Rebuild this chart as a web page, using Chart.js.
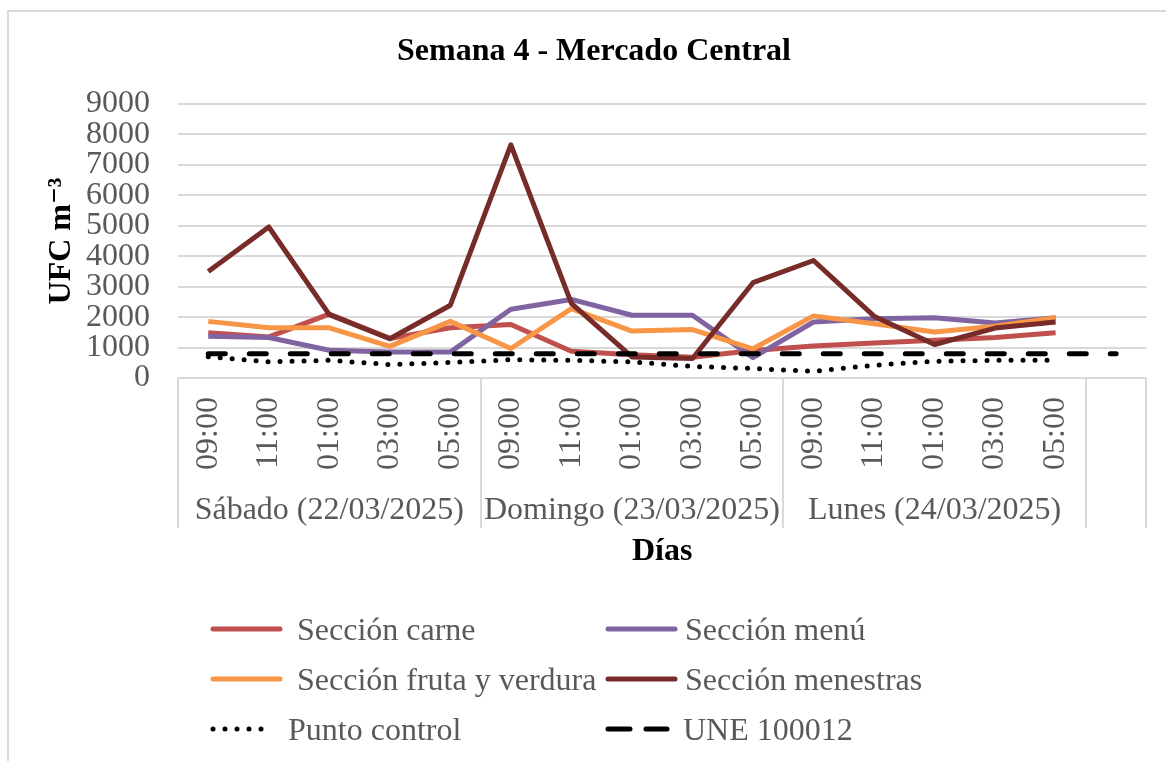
<!DOCTYPE html>
<html lang="es">
<head>
<meta charset="utf-8">
<title>Semana 4 - Mercado Central</title>
<script src="https://cdn.jsdelivr.net/npm/chart.js@4.4.1/dist/chart.umd.min.js"></script>
<style>
  html, body { margin: 0; padding: 0; background: #fff; overflow: hidden; }
  #frame { position: absolute; left: 7px; top: 10px; width: 1220px; height: 820px; border: 2px solid #d9d9d9; box-sizing: border-box; }
  #chart { position: absolute; left: 0; top: 0; }
  #legend { position: absolute; left: 0; top: 0; font: 32px "Liberation Serif", "Times New Roman", serif; color: #595959; }
  .item { position: absolute; display: flex; align-items: center; height: 40px; white-space: pre; }
  .item svg { flex: none; }
</style>
</head>
<body>
<div id="frame"></div>
<canvas id="chart" width="1166" height="761"></canvas>
<div id="legend"></div>
<script>
const hours = ["09:00", "11:00", "01:00", "03:00", "05:00"];
const days = ["Sábado (22/03/2025)", "Domingo (23/03/2025)", "Lunes (24/03/2025)"];
// 15 readings + one empty slot at the end (the UNE line runs into it)
const labels = [...hours, ...hours, ...hours, ""];

const carne = [1490, 1350, 2100, 1300, 1650, 1760, 880, 760, 680, 900, 1050, 1150, 1240, 1330, 1490, null];
const menu = [1370, 1330, 910, 850, 850, 2260, 2580, 2060, 2060, 670, 1840, 1950, 1980, 1810, 1980, null];
const fruta = [1860, 1650, 1650, 1040, 1860, 970, 2280, 1540, 1590, 960, 2040, 1780, 1510, 1700, 1980, null];
const menestras = [3500, 4960, 2080, 1290, 2390, 7660, 2450, 690, 640, 3130, 3860, 2030, 1100, 1640, 1840, null];
const punto = [700, 530, 580, 440, 510, 600, 580, 530, 380, 310, 220, 420, 550, 580, 580, null];
const une = [800, 800, 800, 800, 800, 800, 800, 800, 800, 800, 800, 800, 800, 800, 800, 800];

const serif = "'Liberation Serif', 'Times New Roman', 'DejaVu Serif', serif";
const grey = "#595959";

function line(label, data, color, extra) {
  return Object.assign({
    label, data,
    borderColor: color,
    backgroundColor: color,
    borderWidth: 5,
    pointRadius: 0,
    tension: 0,
    fill: false,
    spanGaps: false,
    borderJoinStyle: "round",
  }, extra || {});
}

// day names under the hour labels, with the grey separators
const dayAxis = {
  id: "dayAxis",
  afterDraw(chart) {
    const x = chart.scales.x;
    const ctx = chart.ctx;
    const top = chart.chartArea.bottom;
    ctx.save();
    ctx.strokeStyle = "#d9d9d9";
    ctx.lineWidth = 2;
    [0, 5, 10, 15, 16].forEach((i) => {
      const px = Math.round(x.getPixelForValue(i - 0.5));
      ctx.beginPath();
      ctx.moveTo(px, top);
      ctx.lineTo(px, top + 150);
      ctx.stroke();
    });
    ctx.fillStyle = grey;
    ctx.font = "32px " + serif;
    ctx.textAlign = "center";
    ctx.textBaseline = "middle";
    days.forEach((d, k) => {
      ctx.fillText(d, x.getPixelForValue(k * 5 + 2), top + 133);
    });
    ctx.restore();
  },
};

Chart.defaults.font.family = serif;

const chart = new Chart(document.getElementById("chart"), {
  type: "line",
  data: {
    labels,
    datasets: [
      line("Sección carne", carne, "#C0504D", { order: 6 }),
      line("Sección menú", menu, "#8064A2", { order: 5 }),
      line("Sección fruta y verdura", fruta, "#F79646", { order: 4 }),
      line("Sección menestras", menestras, "#772C2A", { order: 3 }),
      line("Punto control", punto, "#000000", { order: 2, borderDash: [0, 12], borderCapStyle: "round" }),
      line("UNE 100012", une, "#000000", { order: 1, borderDash: [17, 24], borderCapStyle: "round" }),
    ],
  },
  options: {
    responsive: false,
    animation: false,
    devicePixelRatio: 1,
    layout: { padding: { left: 37, right: 15, top: 0, bottom: 190 } },
    plugins: {
      legend: { display: false },
      tooltip: { enabled: false },
      title: {
        display: true,
        text: "Semana 4 - Mercado Central",
        color: "#000",
        font: { size: 32, weight: "bold" },
        padding: { top: 33, bottom: 32.6 },
      },
    },
    scales: {
      x: {
        type: "category",
        offset: true,
        grid: { display: false },
        border: { display: false },
        ticks: {
          autoSkip: false,
          minRotation: 90,
          maxRotation: 90,
          padding: 11,
          color: grey,
          font: { size: 32 },
        },
        title: {
          display: true,
          text: "Días",
          color: "#000",
          font: { size: 32, weight: "bold" },
          padding: { top: 0, bottom: 0 },
        },
        afterFit(scale) { scale.height = 193; },
      },
      y: {
        min: 0,
        max: 9000,
        border: { display: false },
        grid: { color: "#d9d9d9", lineWidth: 2, drawTicks: false },
        ticks: {
          stepSize: 1000,
          autoSkip: false,
          padding: 28,
          color: grey,
          font: { size: 32 },
          callback: (v) => String(v),
        },
        title: {
          display: true,
          text: "UFC m\u207B\u00B3",
          color: "#000",
          font: { size: 32, weight: "bold" },
          padding: { top: 6, bottom: 0 },
        },
        afterFit(scale) { scale.width = 141; },
      },
    },
  },
  plugins: [dayAxis],
});

// two-column legend like the original
function buildLegend() {
  const box = document.getElementById("legend");
  const colX = [210, 605];
  const rowY = [629, 679, 729];
  chart.data.datasets.forEach((ds, i) => {
    const col = i % 2;
    const item = document.createElement("div");
    item.className = "item";
    item.style.left = colX[col] + "px";
    item.style.top = rowY[Math.floor(i / 2)] - 20 + "px";
    const dashed = ds.borderDash && ds.borderDash.length;
    const w = dashed ? 66 : 74;
    const gap = dashed ? 12 : col === 0 ? 13 : 6;
    const dash = !dashed ? "" : ds.borderDash[0] === 0 ? ' stroke-dasharray="0 12"' : ' stroke-dasharray="22 16"';
    item.innerHTML =
      `<svg width="${w}" height="12" style="margin-right:${gap}px"><line x1="3" y1="6" x2="${w - 4}" y2="6" stroke="${ds.borderColor}" stroke-width="5" stroke-linecap="round"${dash}/></svg>` +
      `<span>${ds.label}</span>`;
    box.appendChild(item);
  });
}
buildLegend();
</script>
</body>
</html>
